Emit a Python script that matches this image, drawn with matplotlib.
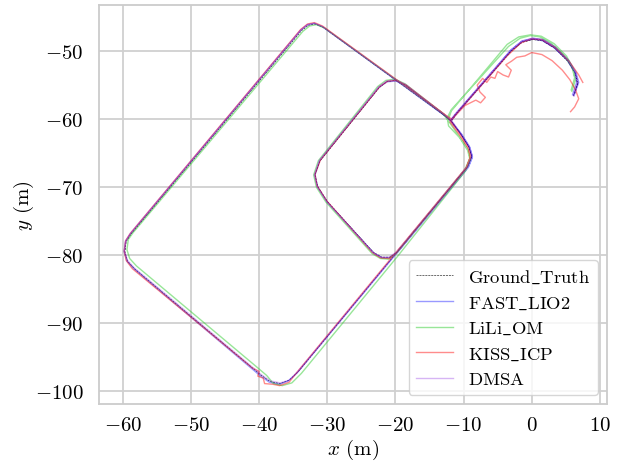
import numpy as np
import matplotlib
matplotlib.use('Agg')
import matplotlib.pyplot as plt

# trajectories (x, y in metres), in driving order
gt_xy = [
    (6.1, -56.6), (6.7, -54.8), (6.4, -53.3), (5.3, -51.5), (3.4, -49.6), (1.6, -48.5),
    (0.2, -48.3), (-1.4, -48.7), (-3.0, -50.0), (-11.0, -59.2), (-11.8, -60.3),
    (-10.4, -62.2), (-9.2, -64.1), (-8.8, -65.5), (-9.4, -67.0), (-19.8, -79.6),
    (-20.8, -80.3), (-22.0, -80.3), (-23.2, -79.6), (-30.0, -72.1), (-31.4, -69.9),
    (-31.8, -68.2), (-31.1, -66.2), (-22.4, -55.4), (-21.3, -54.5), (-20.0, -54.3),
    (-18.5, -55.0), (-12.9, -59.4), (-11.8, -60.3),
    (-10.4, -62.2), (-9.2, -64.1), (-8.8, -65.5), (-9.4, -67.0), (-19.8, -79.6),
    (-34.3, -97.2), (-35.6, -98.4), (-36.9, -98.9), (-38.4, -98.6), (-39.8, -97.6),
    (-58.3, -82.0), (-59.3, -80.9), (-59.7, -79.5), (-59.5, -78.0), (-58.8, -76.9),
    (-33.8, -47.0), (-32.8, -46.2), (-31.8, -46.0), (-30.6, -46.5),
    (-12.9, -59.4), (-11.9, -60.2), (-11.2, -59.3),
    (-3.0, -49.9), (-1.4, -48.6), (0.2, -48.2), (1.6, -48.4), (3.4, -49.5),
    (5.3, -51.4), (6.4, -53.2), (6.8, -54.7), (6.3, -56.3),
]

fast_lio2_xy = [
    (6.0, -56.4), (6.6, -54.6), (6.3, -53.1), (5.2, -51.3), (3.3, -49.5), (1.5, -48.4),
    (0.1, -48.2), (-1.5, -48.6), (-3.1, -49.9), (-11.1, -59.2), (-11.9, -60.3),
    (-10.3, -62.2), (-9.1, -64.1), (-8.7, -65.5), (-9.3, -67.0), (-19.7, -79.6),
    (-20.8, -80.4), (-22.0, -80.4), (-23.2, -79.7), (-30.0, -72.2), (-31.4, -70.0),
    (-31.8, -68.2), (-31.1, -66.1), (-22.4, -55.3), (-21.2, -54.5), (-19.9, -54.4),
    (-18.4, -55.1), (-12.8, -59.4), (-11.8, -60.3),
    (-10.3, -62.3), (-9.1, -64.2), (-8.7, -65.6), (-9.3, -67.1), (-19.8, -79.7),
    (-34.4, -97.3), (-35.7, -98.5), (-37.0, -99.0), (-38.5, -98.7), (-39.9, -97.7),
    (-58.4, -82.0), (-59.4, -80.9), (-59.8, -79.5), (-59.6, -78.0), (-58.9, -76.9),
    (-33.9, -46.9), (-32.9, -46.1), (-31.9, -45.9), (-30.7, -46.4),
    (-12.9, -59.4), (-11.9, -60.2), (-11.2, -59.3),
    (-3.0, -49.8), (-1.4, -48.5), (0.2, -48.1), (1.7, -48.3), (3.5, -49.4),
    (5.4, -51.3), (6.5, -53.1), (6.9, -54.6), (6.2, -56.5),
]

lili_om_xy = [
    (5.8, -55.7), (6.3, -53.9), (5.9, -52.3), (4.6, -50.5), (2.8, -48.8), (1.2, -47.9),
    (-0.2, -47.7), (-1.7, -48.1), (-3.4, -49.3), (-11.8, -58.6), (-12.4, -59.8),
    (-12.2, -61.0), (-10.6, -62.7), (-9.4, -64.6), (-9.1, -65.8), (-9.8, -67.4), (-20.0, -79.9),
    (-21.0, -80.6), (-22.2, -80.5), (-23.4, -79.8), (-30.2, -72.2), (-31.6, -70.0),
    (-32.0, -68.2), (-31.3, -66.1), (-22.6, -55.2), (-21.4, -54.3), (-20.1, -54.1),
    (-18.6, -54.8), (-13.1, -59.1), (-12.2, -60.3),
    (-10.6, -62.6), (-9.3, -64.5), (-9.0, -65.9), (-9.7, -67.6), (-19.7, -80.2),
    (-33.8, -97.4), (-35.2, -98.8), (-36.6, -99.2), (-37.9, -98.9), (-38.9, -97.7), (-40.3, -96.5),
    (-58.0, -81.6), (-59.0, -80.5), (-59.4, -79.2), (-59.2, -77.7), (-58.5, -76.7),
    (-33.6, -47.1), (-32.6, -46.3), (-31.6, -46.1), (-30.4, -46.6),
    (-12.6, -59.5), (-12.2, -60.0), (-11.8, -58.8),
    (-3.6, -49.0), (-1.9, -47.9), (-0.2, -47.6), (1.4, -47.8), (3.3, -48.9),
    (5.1, -50.7), (6.1, -52.6), (6.4, -54.3), (5.9, -55.9),
]

kiss_icp_xy = [
    (7.5, -54.6), (6.9, -53.5), (5.5, -51.5), (3.5, -49.5), (1.5, -48.3), (-0.1, -48.2),
    (-1.6, -48.8), (-3.6, -50.7), (-11.2, -59.4), (-12.0, -60.4),
    (-10.6, -62.3), (-9.3, -64.2), (-9.0, -65.5), (-9.6, -67.2), (-19.9, -79.7),
    (-21.0, -80.5), (-22.2, -80.4), (-23.4, -79.6), (-30.1, -72.0), (-31.5, -69.8),
    (-31.8, -68.1), (-31.0, -66.0), (-22.3, -55.2), (-21.1, -54.4), (-19.9, -54.3),
    (-18.4, -55.0), (-12.8, -59.3), (-11.9, -60.2),
    (-10.5, -62.3), (-9.3, -64.3), (-9.0, -65.6), (-9.6, -67.1), (-20.0, -79.7),
    (-34.5, -97.3), (-35.6, -98.7), (-37.0, -99.2), (-38.0, -99.0), (-39.2, -98.9),
    (-39.4, -98.1), (-40.2, -97.8), (-40.0, -97.1), (-41.0, -96.6), (-42.2, -95.6),
    (-58.6, -82.0), (-59.5, -80.8), (-59.8, -79.4), (-59.6, -77.9), (-58.9, -76.8),
    (-33.9, -46.8), (-32.9, -46.0), (-31.9, -45.8), (-30.7, -46.3),
    (-12.8, -59.3), (-11.7, -60.0),
    (-9.8, -58.0), (-8.2, -57.2), (-7.5, -57.6), (-6.8, -56.8), (-7.6, -56.0), (-8.0, -55.0),
    (-7.2, -54.0), (-6.6, -54.6), (-6.0, -53.8), (-5.4, -54.0), (-5.0, -53.0), (-4.2, -53.5),
    (-3.4, -53.8), (-3.0, -52.8), (-3.8, -52.0), (-3.0, -51.5), (-2.2, -50.9), (-1.0, -50.7),
    (0.0, -50.2), (1.5, -50.5), (3.0, -51.4), (4.5, -52.8), (5.6, -54.2), (6.4, -55.6),
    (6.9, -57.0), (6.3, -58.2), (5.7, -58.9),
]

dmsa_xy = [
    (6.1, -56.5), (6.7, -54.7), (6.4, -53.2), (5.3, -51.4), (3.4, -49.5), (1.6, -48.4),
    (0.2, -48.2), (-1.4, -48.6), (-3.0, -49.9), (-11.0, -59.2), (-11.8, -60.2),
    (-10.4, -62.1), (-9.2, -64.0), (-8.8, -65.4), (-9.4, -66.9), (-19.8, -79.5),
    (-20.9, -80.3), (-22.1, -80.3), (-23.3, -79.6), (-30.1, -72.1), (-31.5, -69.9),
    (-31.9, -68.2), (-31.2, -66.1), (-22.5, -55.3), (-21.3, -54.4), (-20.0, -54.2),
    (-18.5, -54.9), (-12.9, -59.3), (-11.8, -60.2),
    (-10.4, -62.2), (-9.2, -64.1), (-8.8, -65.5), (-9.4, -67.0), (-19.8, -79.6),
    (-34.3, -97.1), (-35.6, -98.4), (-36.9, -98.8), (-38.4, -98.5), (-39.8, -97.5),
    (-58.3, -81.9), (-59.3, -80.8), (-59.8, -79.4), (-59.6, -77.9), (-58.9, -76.8),
    (-33.9, -46.9), (-32.9, -46.1), (-31.9, -45.9), (-30.7, -46.4),
    (-12.9, -59.3), (-11.9, -60.1), (-11.2, -59.2),
    (-3.0, -49.8), (-1.4, -48.5), (0.2, -48.1), (1.6, -48.3), (3.4, -49.4),
    (5.3, -51.3), (6.4, -53.1), (6.8, -54.6), (6.2, -56.6),
]

labels = ['Ground_Truth', 'FAST_LIO2', 'LiLi_OM', 'KISS_ICP', 'DMSA']

plt.rcParams['font.family'] = 'serif'
plt.rcParams['font.serif'] = ['cmr10']
plt.rcParams['mathtext.fontset'] = 'cm'
plt.rcParams['axes.formatter.use_mathtext'] = True
plt.rcParams['axes.unicode_minus'] = True

fig = plt.figure(figsize=(6.18, 4.64), dpi=100)
ax = fig.add_axes([0.1602, 0.1272, 0.822, 0.860])


def tex(s):
    return r'$\mathrm{' + s.replace('_', r'\_') + '}$'


d = np.array(gt_xy)
ax.plot(d[:, 0], d[:, 1], color='k', ls='--', lw=0.4, label=tex(labels[0]))
d = np.array(fast_lio2_xy)
ax.plot(d[:, 0], d[:, 1], color='blue', lw=1.0, alpha=0.4, label=tex(labels[1]))
d = np.array(lili_om_xy)
ax.plot(d[:, 0], d[:, 1], color='limegreen', lw=1.0, alpha=0.5, label=tex(labels[2]))
d = np.array(kiss_icp_xy)
ax.plot(d[:, 0], d[:, 1], color='red', lw=1.0, alpha=0.45, label=tex(labels[3]))
d = np.array(dmsa_xy)
ax.plot(d[:, 0], d[:, 1], color='blueviolet', lw=1.0, alpha=0.35, label=tex(labels[4]))

ax.set_xlim(-63.5, 11.05)
ax.set_ylim(-101.9, -43.2)
ax.set_xticks([-60, -50, -40, -30, -20, -10, 0, 10])
ax.set_yticks([-100, -90, -80, -70, -60, -50])

ax.grid(True, color='#d0d0d0', lw=1.3)
ax.set_axisbelow(True)
for s in ax.spines.values():
    s.set_color('#cccccc')
    s.set_linewidth(1.3)
ax.tick_params(axis='y', length=0, pad=11, labelsize=15)
ax.tick_params(axis='x', length=0, pad=9, labelsize=15)

ax.set_xlabel(r'$x$ (m)', fontsize=15, labelpad=2)
ax.set_ylabel(r'$y$ (m)', fontsize=15, labelpad=-1)

leg = ax.legend(loc='lower right', fontsize=13.4, framealpha=0.8, edgecolor='#cccccc',
                fancybox=True)

fig.savefig('out.png', dpi=100)
